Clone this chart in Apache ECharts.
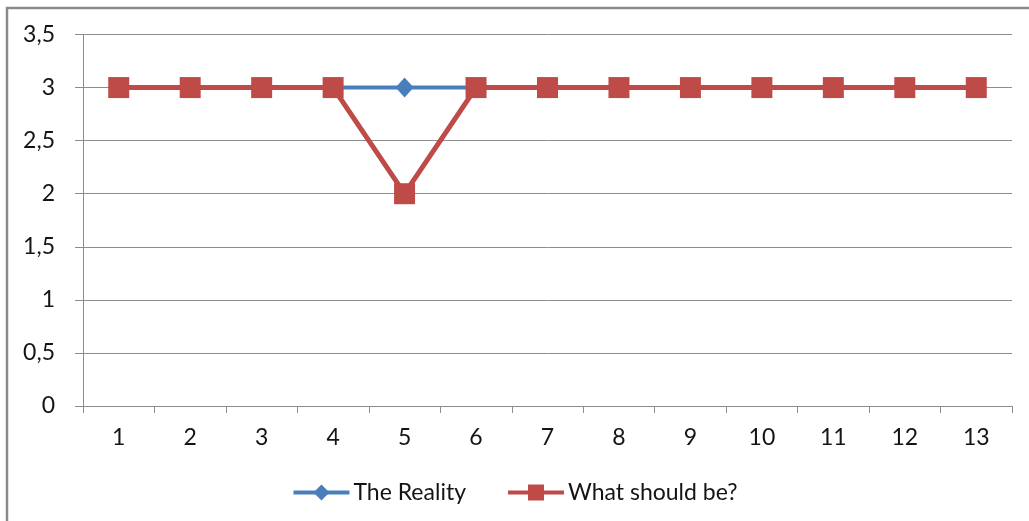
<!DOCTYPE html>
<html>
<head>
<meta charset="utf-8">
<script src="https://cdn.jsdelivr.net/npm/echarts@6/dist/echarts.min.js"></script>
<style>
  html, body { margin: 0; padding: 0; background: #fff; }
  #chart { width: 1029px; height: 521px; }
</style>
</head>
<body>
<div id="chart"></div>
<script>
// Categories along the x axis
const categories = ['1', '2', '3', '4', '5', '6', '7', '8', '9', '10', '11', '12', '13'];
// Series values
const realityValues = [3, 3, 3, 3, 3, 3, 3, 3, 3, 3, 3, 3, 3];
const shouldBeValues = [3, 3, 3, 3, 2, 3, 3, 3, 3, 3, 3, 3, 3];
const seriesNames = ['The Reality', 'What should be?'];

const fontFamily = 'Lato, "Open Sans", sans-serif';
const textColor = '#141414';
const gridColor = '#8c8c8c';
const fontSize = 23;

const chart = echarts.init(document.getElementById('chart'), null, { renderer: 'canvas' });

chart.setOption({
  backgroundColor: '#ffffff',
  animation: false,
  textStyle: { fontFamily: fontFamily },
  graphic: [{
    type: 'polyline',
    shape: { points: [[7, 521], [7, 8], [1029, 8]] },
    style: { stroke: '#8a8a8a', lineWidth: 2.5, fill: null },
    silent: true
  }],
  grid: { left: 83, right: 17, top: 34.5, bottom: 115, containLabel: false },
  legend: {
    top: 476,
    left: 'center',
    itemWidth: 56,
    itemHeight: 20,
    itemGap: 40,
    lineStyle: { width: 4 },
    textStyle: { fontSize: fontSize, color: textColor, fontFamily: fontFamily, padding: [0, 0, 0, -1] },
    data: seriesNames
  },
  xAxis: {
    type: 'category',
    data: categories,
    boundaryGap: true,
    axisLine: { lineStyle: { color: gridColor, width: 1 } },
    axisTick: { show: true, alignWithLabel: false, length: 7, lineStyle: { color: gridColor } },
    axisLabel: { fontSize: fontSize, color: textColor, margin: 20, fontFamily: fontFamily },
    splitLine: { show: false }
  },
  yAxis: {
    type: 'value',
    min: 0,
    max: 3.5,
    interval: 0.5,
    axisLine: { show: true, lineStyle: { color: gridColor, width: 1 } },
    axisTick: { show: true, length: 8, lineStyle: { color: gridColor } },
    axisLabel: {
      fontSize: fontSize,
      color: textColor,
      margin: 28,
      fontFamily: fontFamily,
      formatter: v => String(v).replace('.', ',')
    },
    splitLine: { show: true, lineStyle: { color: gridColor, width: 1 } }
  },
  series: [
    {
      name: seriesNames[0],
      type: 'line',
      data: realityValues,
      symbol: 'diamond',
      symbolSize: [18, 20],
      lineStyle: { color: '#4a7ebb', width: 4 },
      itemStyle: { color: '#4a7ebb' },
      z: 2
    },
    {
      name: seriesNames[1],
      type: 'line',
      data: shouldBeValues,
      symbol: 'rect',
      symbolSize: 21,
      lineStyle: { color: '#be4b48', width: 5 },
      itemStyle: { color: '#be4b48' },
      z: 3
    }
  ]
});
</script>
</body>
</html>
